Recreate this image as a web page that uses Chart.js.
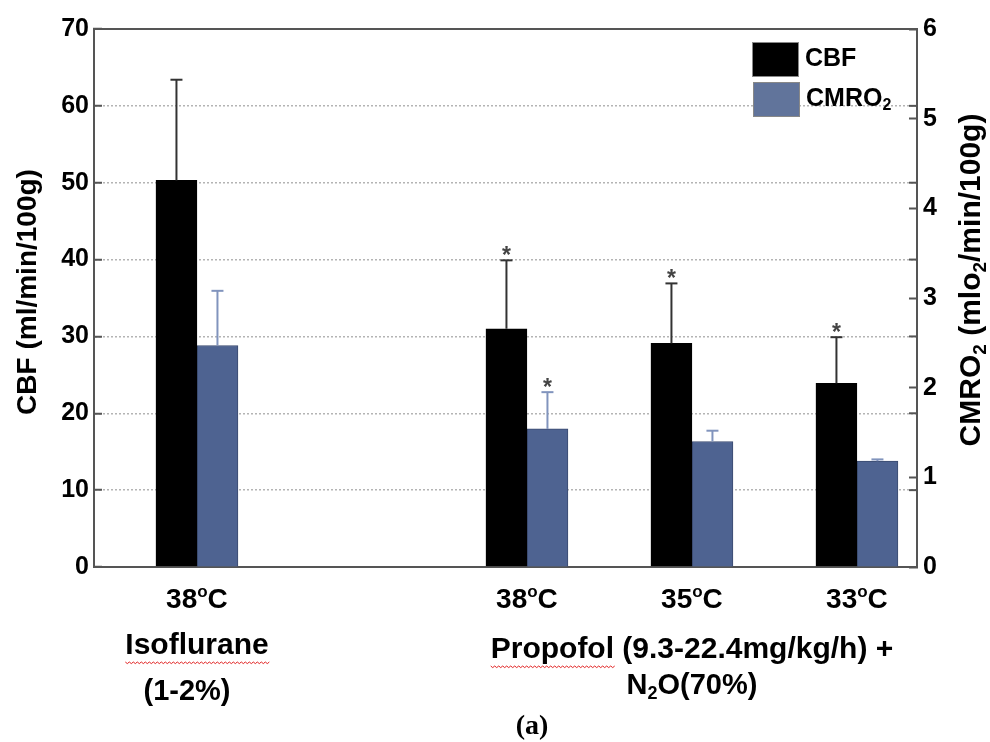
<!DOCTYPE html>
<html>
<head>
<meta charset="utf-8">
<script src="https://cdn.jsdelivr.net/npm/chart.js@4.4.1/dist/chart.umd.min.js"></script>
<style>
  html, body { margin: 0; padding: 0; background: #fff; }
  #wrap { position: relative; width: 990px; height: 742px; }
</style>
</head>
<body>
<div id="wrap"><canvas id="chart" width="990" height="742"></canvas></div>
<script>
// x slots of the bar groups (slot 2 stays empty between the two anaesthetics)
var groupPos = [1, 3, 4, 5];
var tempLabels = ['38^oC', '38^oC', '35^oC', '33^oC'];

// CBF, ml/min/100g (left axis)
var cbf = [50.3, 31.0, 29.1, 23.9];
var cbfErr = [13.1, 8.9, 7.8, 6.0];
var cbfStar = [false, true, true, true];

// CMRO2, mlO2/min/100g (right axis)
var cmro2 = [2.47, 1.54, 1.40, 1.18];
var cmro2Err = [0.61, 0.41, 0.12, 0.02];
var cmro2Star = [false, true, false, false];

var seriesNames = ['CBF', 'CMRO_2'];

var FONT = '"Liberation Sans", Arial, sans-serif';
var AXIS = '#555';

// "_x" makes x a subscript, "^x" a superscript
function rich(str) {
    var parts = [], buf = '', i = 0;
    while (i < str.length) {
        var c = str[i];
        if ((c === '_' || c === '^') && i + 1 < str.length) {
            if (buf) parts.push({ t: buf, k: '' });
            buf = '';
            parts.push({ t: str[i + 1], k: c === '_' ? 'sub' : 'sup' });
            i += 2;
        } else {
            buf += c;
            i++;
        }
    }
    if (buf) parts.push({ t: buf, k: '' });
    return parts;
}

function drawRich(ctx, str, x, y, size, opts) {
    opts = opts || {};
    var family = opts.family || FONT;
    var weight = opts.weight || 'bold';
    var parts = rich(str);
    var fontFor = function (p) {
        return weight + ' ' + (p.k ? Math.round(size * 0.62) : size) + 'px ' + family;
    };
    var w = 0;
    parts.forEach(function (p) {
        ctx.font = fontFor(p);
        p.w = ctx.measureText(p.t).width;
        w += p.w;
    });
    var left = opts.align === 'left' ? x : x - w / 2;
    var cx = left;
    ctx.textAlign = 'left';
    ctx.textBaseline = 'middle';
    ctx.fillStyle = opts.color || '#000';
    parts.forEach(function (p) {
        ctx.font = fontFor(p);
        var dy = p.k === 'sub' ? size * 0.28 : (p.k === 'sup' ? -size * 0.26 : 0);
        ctx.fillText(p.t, cx, y + dy);
        cx += p.w;
    });
    return { left: left, width: w };
}

function squiggle(ctx, x1, x2, y) {
    ctx.save();
    ctx.strokeStyle = '#e02020';
    ctx.lineWidth = 1;
    ctx.beginPath();
    ctx.moveTo(x1, y);
    for (var x = x1, k = 0; x < x2; x += 2, k++) {
        ctx.lineTo(x + 2, y + (k % 2 ? 0 : 1.6));
    }
    ctx.stroke();
    ctx.restore();
}

function line(ctx, x1, y1, x2, y2, color, width) {
    ctx.save();
    ctx.strokeStyle = color;
    ctx.lineWidth = width;
    ctx.beginPath();
    ctx.moveTo(x1, y1);
    ctx.lineTo(x2, y2);
    ctx.stroke();
    ctx.restore();
}

var extras = {
    id: 'extras',
    afterDatasetsDraw: function (chart) {
        var ctx = chart.ctx;
        // error bars and significance stars
        chart.data.datasets.forEach(function (ds, di) {
            var meta = chart.getDatasetMeta(di);
            var ys = chart.scales[ds.yAxisID];
            meta.data.forEach(function (bar, i) {
                var top = ys.getPixelForValue(ds.data[i].y + ds.errors[i]);
                line(ctx, bar.x, bar.y, bar.x, top, ds.errColor, 2);
                line(ctx, bar.x - 6, top, bar.x + 6, top, ds.errColor, 2);
                if (ds.stars[i]) {
                    ctx.save();
                    ctx.font = 'bold 23px ' + FONT;
                    ctx.fillStyle = '#444';
                    ctx.textAlign = 'center';
                    ctx.textBaseline = 'alphabetic';
                    ctx.fillText('*', bar.x, top + 3);
                    ctx.restore();
                }
            });
        });
    },
    afterDraw: function (chart) {
        var ctx = chart.ctx;
        var area = chart.chartArea;
        var x = chart.scales.x;
        var y = chart.scales.y;

        // top frame and inward ticks of the left scale on the right spine
        line(ctx, area.left - 1, area.top, area.right + 1, area.top, AXIS, 2);
        y.ticks.forEach(function (t) {
            if (t.value > 0 && t.value < 70) {
                var py = y.getPixelForValue(t.value);
                line(ctx, area.right - 8, py, area.right, py, AXIS, 2);
            }
        });

        // temperature labels under each group
        x.ticks.forEach(function (t) {
            drawRich(ctx, tempLabels[groupPos.indexOf(t.value)], x.getPixelForValue(t.value), 600, 28);
        });

        // axis titles
        ctx.save();
        ctx.translate(28, 292);
        ctx.rotate(-Math.PI / 2);
        drawRich(ctx, 'CBF (ml/min/100g)', 0, 0, 28);
        ctx.restore();
        ctx.save();
        ctx.translate(972, 280);
        ctx.rotate(-Math.PI / 2);
        drawRich(ctx, 'CMRO_2 (mlo_2/min/100g)', 0, 0, 30);
        ctx.restore();

        // legend
        var boxes = [[752, 42], [753, 82]];
        chart.data.datasets.forEach(function (ds, di) {
            var b = boxes[di];
            ctx.save();
            ctx.fillStyle = ds.legendFill;
            ctx.fillRect(b[0], b[1], 47, 35);
            ctx.strokeStyle = '#888';
            ctx.lineWidth = 1;
            ctx.strokeRect(b[0] + 0.5, b[1] + 0.5, 46, 34);
            ctx.restore();
            drawRich(ctx, seriesNames[di], b[0] + 53, b[1] + 17, 25, { align: 'left' });
        });

        // group captions
        var iso = drawRich(ctx, 'Isoflurane', 197, 646, 30);
        squiggle(ctx, iso.left, iso.left + iso.width, 662);
        drawRich(ctx, '(1-2%)', 187, 692, 29);
        var pro = drawRich(ctx, 'Propofol (9.3-22.4mg/kg/h) +', 692, 650, 30);
        ctx.font = 'bold 30px ' + FONT;
        squiggle(ctx, pro.left, pro.left + ctx.measureText('Propofol').width, 666);
        drawRich(ctx, 'N_2O(70%)', 692, 686, 29);
        drawRich(ctx, '(a)', 532, 727, 28, { family: '"Liberation Serif", "Times New Roman", serif' });
    }
};

Chart.defaults.font.family = FONT;
Chart.defaults.color = '#000';

new Chart(document.getElementById('chart'), {
    type: 'bar',
    data: {
        datasets: [{
            label: seriesNames[0],
            yAxisID: 'y',
            data: groupPos.map(function (p, i) { return { x: p, y: cbf[i] }; }),
            backgroundColor: '#000',
            borderColor: '#000',
            borderWidth: 1,
            barThickness: 41,
            errors: cbfErr,
            stars: cbfStar,
            errColor: '#333',
            legendFill: '#000'
        }, {
            label: seriesNames[1],
            yAxisID: 'y1',
            data: groupPos.map(function (p, i) { return { x: p, y: cmro2[i] }; }),
            backgroundColor: '#4e6391',
            borderColor: '#3a4a6f',
            borderWidth: 1,
            barThickness: 41,
            errors: cmro2Err,
            stars: cmro2Star,
            errColor: '#8194bd',
            legendFill: '#61749b'
        }]
    },
    options: {
        responsive: false,
        animation: false,
        layout: { padding: { top: 23, left: 0, right: 0, bottom: 0 } },
        plugins: { legend: { display: false }, tooltip: { enabled: false } },
        scales: {
            x: {
                type: 'linear',
                offset: false,
                min: 0.376,
                max: 5.364,
                afterBuildTicks: function (s) {
                    s.ticks = groupPos.map(function (v) { return { value: v }; });
                },
                ticks: { display: false },
                grid: { display: false, drawTicks: false },
                border: { color: AXIS, width: 2 },
                afterFit: function (s) { s.height = 175; }
            },
            y: {
                position: 'left',
                min: 0,
                max: 70,
                ticks: { stepSize: 10, padding: 13, color: '#000', font: { size: 25, weight: 'bold' } },
                grid: {
                    color: function (c) {
                        return (c.tick.value === 0 || c.tick.value === 70) ? 'rgba(0,0,0,0)' : '#b4b4b4';
                    },
                    lineWidth: 1.5,
                    tickLength: -8,
                    tickColor: AXIS,
                    tickWidth: 2
                },
                border: { color: AXIS, width: 2, dash: [2, 2] },
                afterFit: function (s) { s.width = 94; }
            },
            y1: {
                position: 'right',
                min: 0,
                max: 6,
                ticks: { stepSize: 1, padding: 14, color: '#000', font: { size: 25, weight: 'bold' } },
                grid: { drawOnChartArea: false, tickLength: -8, tickColor: AXIS, tickWidth: 2 },
                border: { color: AXIS, width: 2 },
                afterFit: function (s) { s.width = 73; }
            }
        }
    },
    plugins: [extras]
});
</script>
</body>
</html>
